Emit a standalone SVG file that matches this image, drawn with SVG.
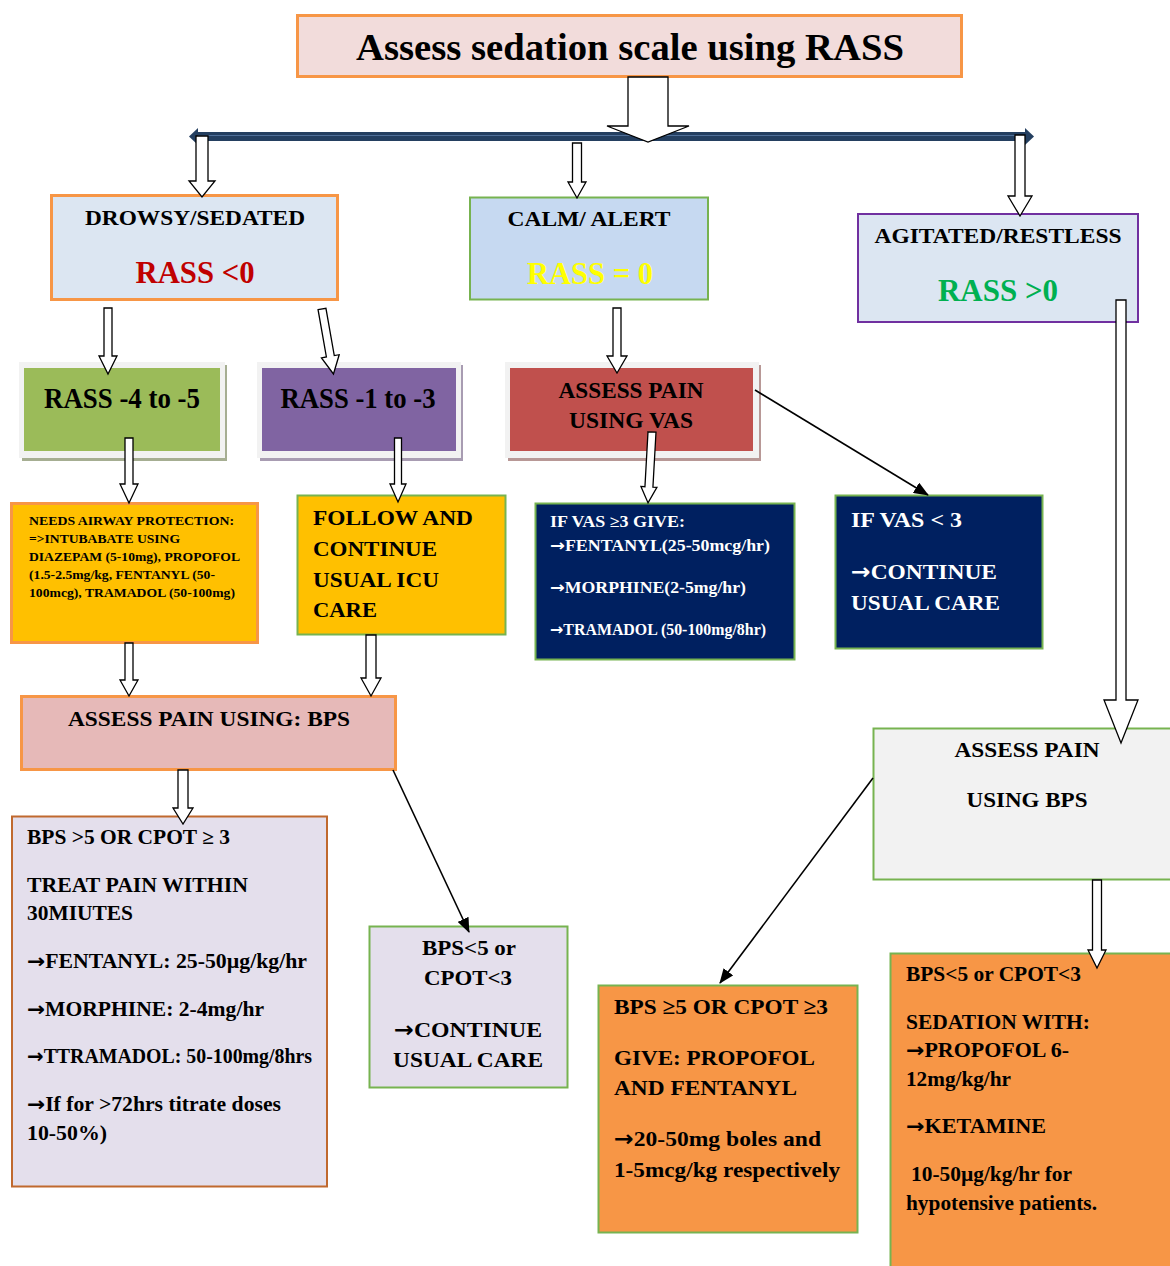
<svg xmlns="http://www.w3.org/2000/svg" width="1170" height="1266" viewBox="0 0 1170 1266">
<defs>
<style>
.t{font-family:"Liberation Serif","Times New Roman",serif;font-weight:bold;fill:#000}
.w{fill:#fff}
.ar{font-family:"DejaVu Sans",sans-serif;font-weight:bold}
.ba{fill:#fff;stroke:#000;stroke-width:1.3;stroke-linejoin:miter}
.cn{stroke:#000;stroke-width:1.6;fill:none;marker-end:url(#ah)}
.frame{fill:#f2f2f2}
</style>
<marker id="ah" markerUnits="userSpaceOnUse" markerWidth="16" markerHeight="12" refX="14" refY="6" orient="auto">
<path d="M0,0 L15,6 L0,12 Z" fill="#000"/>
</marker>
</defs>
<rect width="1170" height="1266" fill="#fff"/>

<!-- horizontal distribution bar -->
<g id="bar">
<rect x="196" y="132" width="831" height="9" fill="#243f60"/>
<line x1="196" y1="135.5" x2="1027" y2="135.5" stroke="#4f6f98" stroke-width="1.2"/>
<path d="M189,136.5 L198,128 L198,145 Z" fill="#243f60"/>
<path d="M1034,136.5 L1025,128 L1025,145 Z" fill="#243f60"/>
</g>

<!-- nodes -->
<g id="n-title">
<rect x="297.5" y="15.5" width="664" height="61" fill="#f2dcdb" stroke="#f79646" stroke-width="3"/>
<text class="t" x="630" y="60" font-size="37" text-anchor="middle" textLength="548" lengthAdjust="spacingAndGlyphs">Assess sedation scale using RASS</text>
</g>

<g id="n-drowsy">
<rect x="51.5" y="195.5" width="286" height="104" fill="#dce6f2" stroke="#f79646" stroke-width="3"/>
<text class="t" x="195" y="225" font-size="21" text-anchor="middle" textLength="220" lengthAdjust="spacingAndGlyphs">DROWSY/SEDATED</text>
<text class="t" x="195" y="283" font-size="32" text-anchor="middle" textLength="119" lengthAdjust="spacingAndGlyphs" style="fill:#c00000">RASS &lt;0</text>
</g>

<g id="n-calm">
<rect x="470" y="197.5" width="238" height="102" fill="#c6d9f1" stroke="#77b350" stroke-width="2"/>
<text class="t" x="589" y="226" font-size="21" text-anchor="middle" textLength="163" lengthAdjust="spacingAndGlyphs">CALM/ ALERT</text>
<text class="t" x="590" y="284" font-size="32" text-anchor="middle" textLength="126" lengthAdjust="spacingAndGlyphs" style="fill:#ffff00">RASS = 0</text>
</g>

<g id="n-agitated">
<rect x="858" y="214" width="280" height="108" fill="#dce6f2" stroke="#7030a0" stroke-width="2"/>
<text class="t" x="998" y="243" font-size="21" text-anchor="middle" textLength="247" lengthAdjust="spacingAndGlyphs">AGITATED/RESTLESS</text>
<text class="t" x="998" y="301" font-size="32" text-anchor="middle" textLength="120" lengthAdjust="spacingAndGlyphs" style="fill:#00b050">RASS &gt;0</text>
</g>

<g id="n-rass45">
<rect x="22" y="365" width="205" height="96" fill="#a6ae92"/>
<rect x="19" y="362" width="206" height="96" class="frame"/>
<rect x="24" y="368" width="196" height="83" fill="#9bbb59"/>
<text class="t" x="122" y="408" font-size="29" text-anchor="middle" textLength="156" lengthAdjust="spacingAndGlyphs">RASS -4 to -5</text>
</g>

<g id="n-rass13">
<rect x="260" y="365" width="203" height="96" fill="#a89cb2"/>
<rect x="257" y="362" width="204" height="96" class="frame"/>
<rect x="262" y="368" width="194" height="83" fill="#8064a2"/>
<text class="t" x="358" y="408" font-size="29" text-anchor="middle" textLength="155" lengthAdjust="spacingAndGlyphs">RASS -1 to -3</text>
</g>

<g id="n-vas">
<rect x="508" y="365" width="253" height="96" fill="#b89896"/>
<rect x="505" y="362" width="254" height="96" class="frame"/>
<rect x="510" y="368" width="243" height="83" fill="#c0504d"/>
<text class="t" x="631" y="398" font-size="23" text-anchor="middle" textLength="145" lengthAdjust="spacingAndGlyphs">ASSESS PAIN</text>
<text class="t" x="631" y="428" font-size="23" text-anchor="middle" textLength="124" lengthAdjust="spacingAndGlyphs">USING VAS</text>
</g>

<g id="n-airway">
<rect x="11.5" y="503.5" width="246" height="139" fill="#ffc000" stroke="#f79646" stroke-width="3"/>
<text class="t" x="29" y="525" font-size="13.5" textLength="205" lengthAdjust="spacingAndGlyphs">NEEDS AIRWAY PROTECTION:</text>
<text class="t" x="29" y="543" font-size="13.5" textLength="151" lengthAdjust="spacingAndGlyphs">=&gt;INTUBABATE USING</text>
<text class="t" x="29" y="561" font-size="13.5" textLength="211" lengthAdjust="spacingAndGlyphs">DIAZEPAM (5-10mg), PROPOFOL</text>
<text class="t" x="29" y="579" font-size="13.5" textLength="186" lengthAdjust="spacingAndGlyphs">(1.5-2.5mg/kg, FENTANYL (50-</text>
<text class="t" x="29" y="597" font-size="13.5" textLength="206" lengthAdjust="spacingAndGlyphs">100mcg), TRAMADOL (50-100mg)</text>
</g>

<g id="n-follow">
<rect x="297.5" y="495.5" width="208" height="139" fill="#ffc000" stroke="#77b350" stroke-width="2"/>
<text class="t" x="313" y="525" font-size="22" textLength="160" lengthAdjust="spacingAndGlyphs">FOLLOW AND</text>
<text class="t" x="313" y="556" font-size="22" textLength="124" lengthAdjust="spacingAndGlyphs">CONTINUE</text>
<text class="t" x="313" y="587" font-size="22" textLength="126" lengthAdjust="spacingAndGlyphs">USUAL ICU</text>
<text class="t" x="313" y="617" font-size="22" textLength="64" lengthAdjust="spacingAndGlyphs">CARE</text>
</g>

<g id="n-vasgive">
<rect x="535.5" y="503.5" width="259" height="156" fill="#002060" stroke="#77b350" stroke-width="2"/>
<text class="t w" x="550" y="527" font-size="16" textLength="135" lengthAdjust="spacingAndGlyphs">IF VAS ≥3 GIVE:</text>
<text class="t w" x="550" y="551" font-size="16" textLength="220" lengthAdjust="spacingAndGlyphs"><tspan class="ar">→</tspan>FENTANYL(25-50mcg/hr)</text>
<text class="t w" x="550" y="593" font-size="16" textLength="196" lengthAdjust="spacingAndGlyphs"><tspan class="ar">→</tspan>MORPHINE(2-5mg/hr)</text>
<text class="t w" x="550" y="635" font-size="16" textLength="216" lengthAdjust="spacingAndGlyphs"><tspan class="ar">→</tspan>TRAMADOL (50-100mg/8hr)</text>
</g>

<g id="n-vaslow">
<rect x="835.5" y="495.5" width="207" height="153" fill="#002060" stroke="#77b350" stroke-width="2"/>
<text class="t w" x="851" y="527" font-size="20" textLength="111" lengthAdjust="spacingAndGlyphs">IF VAS &lt; 3</text>
<text class="t w" x="851" y="579" font-size="22" textLength="146" lengthAdjust="spacingAndGlyphs"><tspan class="ar">→</tspan>CONTINUE</text>
<text class="t w" x="851" y="610" font-size="22" textLength="149" lengthAdjust="spacingAndGlyphs">USUAL CARE</text>
</g>

<g id="n-bps">
<rect x="21.5" y="696.5" width="374" height="73" fill="#e6b9b8" stroke="#f79646" stroke-width="3"/>
<text class="t" x="68" y="726" font-size="21" textLength="282" lengthAdjust="spacingAndGlyphs">ASSESS PAIN USING: BPS</text>
</g>

<g id="n-treat">
<rect x="12" y="816.5" width="315" height="370" fill="#e4dfec" stroke="#c0692e" stroke-width="2"/>
<text class="t" x="27" y="844" font-size="20" textLength="203" lengthAdjust="spacingAndGlyphs">BPS &gt;5 OR CPOT ≥ 3</text>
<text class="t" x="27" y="892" font-size="20" textLength="221" lengthAdjust="spacingAndGlyphs">TREAT PAIN WITHIN</text>
<text class="t" x="27" y="920" font-size="20" textLength="106" lengthAdjust="spacingAndGlyphs">30MIUTES</text>
<text class="t" x="27" y="968" font-size="20" textLength="280" lengthAdjust="spacingAndGlyphs"><tspan class="ar">→</tspan>FENTANYL: 25-50µg/kg/hr</text>
<text class="t" x="27" y="1016" font-size="20" textLength="237" lengthAdjust="spacingAndGlyphs"><tspan class="ar">→</tspan>MORPHINE: 2-4mg/hr</text>
<text class="t" x="27" y="1063" font-size="20" textLength="285" lengthAdjust="spacingAndGlyphs"><tspan class="ar">→</tspan>TTRAMADOL: 50-100mg/8hrs</text>
<text class="t" x="27" y="1111" font-size="20" textLength="254" lengthAdjust="spacingAndGlyphs"><tspan class="ar">→</tspan>If for &gt;72hrs titrate doses</text>
<text class="t" x="27" y="1140" font-size="20" textLength="80" lengthAdjust="spacingAndGlyphs">10-50%)</text>
</g>

<g id="n-continue">
<rect x="369.5" y="926.5" width="198" height="161" fill="#e4dfec" stroke="#77b350" stroke-width="2"/>
<text class="t" x="469" y="955" font-size="22" text-anchor="middle" textLength="94" lengthAdjust="spacingAndGlyphs">BPS&lt;5 or</text>
<text class="t" x="468" y="985" font-size="22" text-anchor="middle" textLength="88" lengthAdjust="spacingAndGlyphs">CPOT&lt;3</text>
<text class="t" x="468" y="1037" font-size="22" text-anchor="middle" textLength="148" lengthAdjust="spacingAndGlyphs"><tspan class="ar">→</tspan>CONTINUE</text>
<text class="t" x="468" y="1067" font-size="22" text-anchor="middle" textLength="150" lengthAdjust="spacingAndGlyphs">USUAL CARE</text>
</g>

<g id="n-bpsright">
<rect x="873.5" y="728.5" width="300" height="151" fill="#f2f2f2" stroke="#77b350" stroke-width="2"/>
<text class="t" x="1027" y="757" font-size="22" text-anchor="middle" textLength="145" lengthAdjust="spacingAndGlyphs">ASSESS PAIN</text>
<text class="t" x="1027" y="807" font-size="22" text-anchor="middle" textLength="121" lengthAdjust="spacingAndGlyphs">USING BPS</text>
</g>

<g id="n-give">
<rect x="598.5" y="985.5" width="259" height="247" fill="#f79646" stroke="#77b350" stroke-width="2"/>
<text class="t" x="614" y="1014" font-size="22" textLength="214" lengthAdjust="spacingAndGlyphs">BPS ≥5 OR CPOT ≥3</text>
<text class="t" x="614" y="1065" font-size="22" textLength="201" lengthAdjust="spacingAndGlyphs">GIVE: PROPOFOL</text>
<text class="t" x="614" y="1095" font-size="22" textLength="183" lengthAdjust="spacingAndGlyphs">AND FENTANYL</text>
<text class="t" x="614" y="1146" font-size="22" textLength="207" lengthAdjust="spacingAndGlyphs"><tspan class="ar">→</tspan>20-50mg boles and</text>
<text class="t" x="614" y="1177" font-size="22" textLength="226" lengthAdjust="spacingAndGlyphs">1-5mcg/kg respectively</text>
</g>

<g id="n-sedation">
<rect x="890.5" y="953.5" width="290" height="320" fill="#f79646" stroke="#77b350" stroke-width="2"/>
<text class="t" x="906" y="981" font-size="20" textLength="175" lengthAdjust="spacingAndGlyphs">BPS&lt;5 or CPOT&lt;3</text>
<text class="t" x="906" y="1029" font-size="20" textLength="184" lengthAdjust="spacingAndGlyphs">SEDATION WITH:</text>
<text class="t" x="906" y="1057" font-size="20" textLength="163" lengthAdjust="spacingAndGlyphs"><tspan class="ar">→</tspan>PROPOFOL 6-</text>
<text class="t" x="906" y="1086" font-size="20" textLength="105" lengthAdjust="spacingAndGlyphs">12mg/kg/hr</text>
<text class="t" x="906" y="1133" font-size="20" textLength="140" lengthAdjust="spacingAndGlyphs"><tspan class="ar">→</tspan>KETAMINE</text>
<text class="t" x="911" y="1181" font-size="20" textLength="161" lengthAdjust="spacingAndGlyphs">10-50µg/kg/hr for</text>
<text class="t" x="906" y="1210" font-size="20" textLength="191" lengthAdjust="spacingAndGlyphs">hypotensive patients.</text>
</g>

<!-- connectors -->
<g id="connectors">
<path class="ba" d="M628,77 L668,77 L668,126 L689,126 L648,142 L607,126 L628,126 Z"/>
<path class="ba" d="M196,136 L208,136 L208,181 L215,181 L202,197 L189,181 L196,181 Z"/>
<path class="ba" d="M572.5,143 L581.5,143 L581.5,182 L586,182 L577,198 L568,182 L572.5,182 Z"/>
<path class="ba" d="M1015,135 L1025,135 L1025,196 L1032,196 L1020,216 L1008,196 L1015,196 Z"/>
<path class="ba" d="M104,308 L112,308 L112,356 L117,356 L108,374 L99,356 L104,356 Z"/>
<path class="ba" transform="translate(322,309) rotate(-10)" d="M-4,0 L4,0 L4,48 L9,48 L0,66 L-9,48 L-4,48 Z"/>
<path class="ba" d="M613,308 L621,308 L621,356 L627,356 L617,373 L607,356 L613,356 Z"/>
<path class="ba" d="M125,438 L133,438 L133,484 L138,484 L129,503 L120,484 L125,484 Z"/>
<path class="ba" d="M394.5,438 L401.5,438 L401.5,484 L406,484 L398,502 L390,484 L394.5,484 Z"/>
<path class="ba" transform="translate(652,432) rotate(3.2)" d="M-4,0 L4,0 L4,55 L8,55 L0,71 L-8,55 L-4,55 Z"/>
<path class="ba" d="M125,643 L133,643 L133,680 L138,680 L129,696 L120,680 L125,680 Z"/>
<path class="ba" d="M366,635 L376,635 L376,678 L381,678 L371,696 L361,678 L366,678 Z"/>
<path class="ba" d="M178,770 L188,770 L188,808 L193,808 L183,824 L173,808 L178,808 Z"/>
<path class="ba" d="M1116,300 L1126,300 L1126,700 L1138,700 L1121,743 L1104,700 L1116,700 Z"/>
<path class="ba" d="M1092.5,880 L1101.5,880 L1101.5,950 L1106,950 L1097,968 L1088,950 L1092.5,950 Z"/>
<line class="cn" x1="755" y1="390" x2="928" y2="495"/>
<line class="cn" x1="393" y1="770" x2="469" y2="932"/>
<line class="cn" x1="873" y1="778" x2="720" y2="983"/>
</g>
</svg>
